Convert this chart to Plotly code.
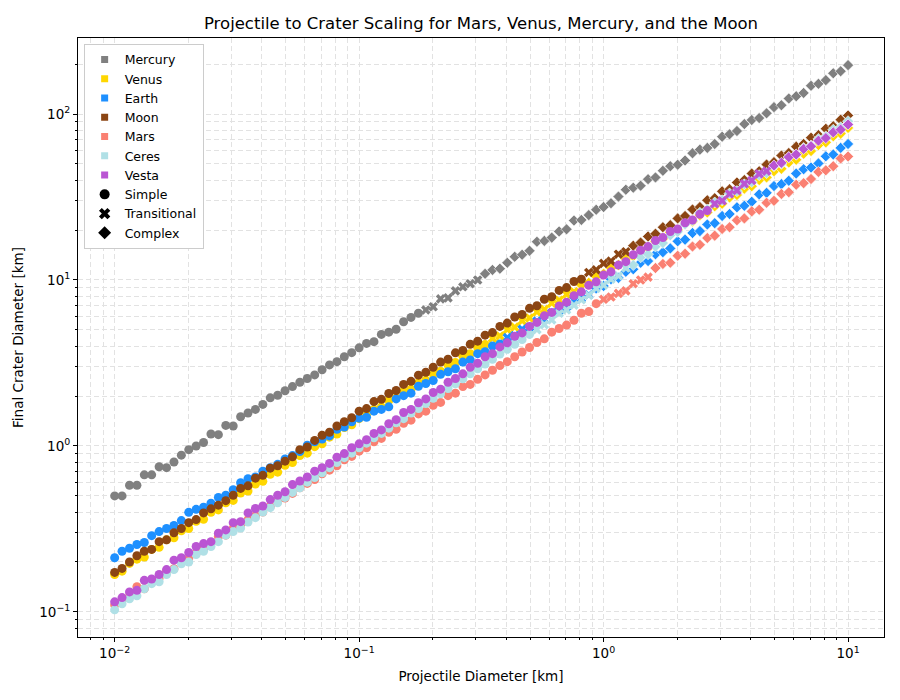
import plotly.graph_objects as go

# ---------------- data ----------------
x_km = [
    0.01000, 0.01072, 0.01150, 0.01233, 0.01322, 0.01417, 0.01520, 0.01630, 0.01748, 0.01874,
    0.02009, 0.02154, 0.02310, 0.02477, 0.02656, 0.02848, 0.03054, 0.03275, 0.03511, 0.03765,
    0.04037, 0.04329, 0.04642, 0.04977, 0.05337, 0.05722, 0.06136, 0.06579, 0.07055, 0.07565,
    0.08111, 0.08697, 0.09326,
    0.1000, 0.1072, 0.1150, 0.1233, 0.1322, 0.1417, 0.1520, 0.1630, 0.1748, 0.1874,
    0.2009, 0.2154, 0.2310, 0.2477, 0.2656, 0.2848, 0.3054, 0.3275, 0.3511, 0.3765,
    0.4037, 0.4329, 0.4642, 0.4977, 0.5337, 0.5722, 0.6136, 0.6579, 0.7055, 0.7565,
    0.8111, 0.8697, 0.9326,
    1.000, 1.072, 1.150, 1.233, 1.322, 1.417, 1.520, 1.630, 1.748, 1.874,
    2.009, 2.154, 2.310, 2.477, 2.656, 2.848, 3.054, 3.275, 3.511, 3.765,
    4.037, 4.329, 4.642, 4.977, 5.337, 5.722, 6.136, 6.579, 7.055, 7.565,
    8.111, 8.697, 9.326, 10.00,
]

mercury = [
    0.50, 0.50, 0.58, 0.58, 0.67, 0.67, 0.75, 0.74, 0.80, 0.88,
    0.95, 1.00, 1.05, 1.18, 1.17, 1.33, 1.32, 1.50, 1.58, 1.66,
    1.78, 1.95, 2.02, 2.15, 2.28, 2.42, 2.55, 2.68, 2.88, 3.08,
    3.22, 3.45, 3.65, 3.90,
    4.15, 4.25, 4.70, 4.85, 5.05, 5.60, 5.95, 6.30, 6.60, 6.90,
    7.70, 7.80, 8.60, 9.10, 9.50, 10.0, 10.9, 11.5, 11.7, 12.7,
    13.8, 14.2, 15.0, 17.0, 17.2, 18.0, 19.6, 20.2, 22.8, 23.0,
    24.6, 26.5, 27.5,
    29.0, 31.8, 35.0, 36.0, 37.0, 40.5, 41.5, 45.5, 48.5, 49.5,
    52.5, 58.0, 61.0, 62.5, 66.0, 73.0, 75.5, 79.0, 87.0, 92.0,
    94.5, 101, 110, 113, 124, 128, 134, 148, 152, 160,
    176, 181, 197,
]

venus = [
    0.168, 0.176, 0.196, 0.208, 0.214, 0.238, 0.245, 0.272, 0.280, 0.308,
    0.318, 0.352, 0.362, 0.398, 0.412, 0.455, 0.470, 0.520, 0.535, 0.590,
    0.612, 0.675, 0.695, 0.765, 0.795, 0.875, 0.905, 0.99, 1.03, 1.13,
    1.18, 1.29, 1.34, 1.46,
    1.53, 1.66, 1.72, 1.88, 1.95, 2.13, 2.20, 2.40, 2.49, 2.71,
    2.82, 3.07, 3.18, 3.47, 3.60, 3.92, 4.08, 4.45, 4.60, 5.02,
    5.20, 5.68, 5.90, 6.42, 6.65, 7.25, 7.55, 8.20, 8.50, 9.30,
    9.62, 10.5, 10.9,
    11.8, 12.3, 13.4, 13.9, 15.2, 15.6, 17.1, 17.7, 19.3, 20.0,
    21.8, 22.5, 24.6, 25.5, 27.8, 28.8, 31.4, 32.5, 35.5, 36.7,
    40.0, 41.5, 45.2, 46.8, 51.0, 53.0, 57.6, 59.8, 65.0, 67.5,
    73.5, 76.2, 82.5,
]

earth = [
    0.212, 0.232, 0.242, 0.255, 0.262, 0.288, 0.305, 0.318, 0.332, 0.355,
    0.398, 0.415, 0.428, 0.452, 0.490, 0.505, 0.545, 0.600, 0.635, 0.650,
    0.705, 0.740, 0.775, 0.835, 0.875, 0.925, 1.01, 1.06, 1.10, 1.15,
    1.26, 1.30, 1.40, 1.47,
    1.49, 1.62, 1.66, 1.72, 1.92, 2.01, 2.08, 2.29, 2.38, 2.48,
    2.70, 2.80, 2.92, 3.20, 3.30, 3.60, 3.70, 4.00, 4.12, 4.50,
    4.62, 5.05, 5.20, 5.65, 5.80, 6.35, 6.55, 6.90, 7.55, 7.75,
    8.15, 8.90, 9.20,
    10.1, 10.3, 11.2, 11.6, 12.7, 13.0, 14.3, 14.7, 15.5, 17.1,
    17.5, 19.2, 19.7, 21.6, 22.0, 24.3, 25.0, 27.4, 28.0, 29.6,
    32.8, 33.5, 36.8, 37.8, 39.6, 43.8, 46.5, 47.6, 50.4, 55.6,
    57.0, 62.5, 66.0,
]

moon = [
    0.173, 0.183, 0.200, 0.218, 0.232, 0.238, 0.265, 0.272, 0.300, 0.318,
    0.345, 0.360, 0.395, 0.418, 0.440, 0.468, 0.505, 0.555, 0.575, 0.640,
    0.665, 0.735, 0.760, 0.810, 0.860, 0.950, 0.985, 1.08, 1.16, 1.21,
    1.32, 1.40, 1.48, 1.62,
    1.68, 1.85, 1.91, 2.07, 2.16, 2.35, 2.45, 2.67, 2.78, 2.98,
    3.20, 3.33, 3.64, 3.76, 4.10, 4.28, 4.65, 4.82, 5.25, 5.50,
    5.98, 6.20, 6.75, 7.00, 7.65, 7.92, 8.65, 9.00, 9.80, 10.1,
    11.1, 11.5, 12.6,
    13.0, 14.3, 14.8, 16.1, 16.8, 18.3, 19.0, 20.8, 21.4, 23.5,
    24.3, 26.6, 27.5, 30.2, 31.1, 34.2, 35.2, 38.7, 40.0, 43.8,
    45.2, 49.6, 51.3, 56.2, 58.2, 63.6, 66.0, 72.0, 74.6, 81.5,
    84.5, 92.4, 98.0,
]

mars = [
    0.110, 0.118, 0.124, 0.142, 0.138, 0.155, 0.160, 0.176, 0.182, 0.205,
    0.210, 0.226, 0.240, 0.258, 0.285, 0.290, 0.318, 0.335, 0.360, 0.380,
    0.400, 0.432, 0.465, 0.485, 0.518, 0.560, 0.595, 0.628, 0.680, 0.715,
    0.760, 0.825, 0.865, 0.93,
    0.975, 1.06, 1.11, 1.21, 1.26, 1.37, 1.43, 1.56, 1.62, 1.76,
    1.83, 2.01, 2.08, 2.28, 2.35, 2.52, 2.68, 2.86, 3.05, 3.22,
    3.45, 3.68, 3.92, 4.20, 4.42, 4.85, 5.10, 5.35, 5.72, 6.30,
    6.45, 7.20, 7.65,
    7.90, 8.30, 8.60, 9.50, 10.0, 10.4, 11.8, 12.5, 12.7, 14.0,
    14.4, 15.9, 16.3, 17.9, 18.5, 20.3, 20.8, 22.9, 23.5, 25.9,
    26.5, 29.2, 30.0, 33.0, 33.8, 37.5, 38.3, 40.6, 44.8, 45.8,
    48.5, 54.0, 55.5,
]

ceres = [
    0.103, 0.112, 0.120, 0.125, 0.138, 0.148, 0.152, 0.168, 0.180, 0.195,
    0.200, 0.222, 0.232, 0.248, 0.265, 0.290, 0.305, 0.320, 0.348, 0.370,
    0.400, 0.425, 0.455, 0.490, 0.525, 0.560, 0.605, 0.645, 0.690, 0.740,
    0.795, 0.850, 0.905, 0.975,
    1.04, 1.12, 1.19, 1.28, 1.38, 1.46, 1.58, 1.68, 1.80, 1.94,
    2.06, 2.22, 2.37, 2.54, 2.72, 2.92, 3.12, 3.33, 3.58, 3.82,
    4.10, 4.38, 4.70, 5.02, 5.38, 5.75, 6.30, 6.60, 7.05, 7.60,
    8.10, 8.90, 9.30,
    10.1, 10.6, 11.8, 12.3, 13.7, 14.3, 15.9, 16.7, 18.6, 19.5,
    21.7, 22.8, 25.4, 26.6, 29.3, 30.2, 33.2, 34.3, 37.7, 38.9,
    42.8, 44.1, 48.5, 50.1, 55.0, 56.9, 62.4, 64.6, 70.8, 73.3,
    80.4, 83.2, 90.5,
]

vesta = [
    0.115, 0.122, 0.132, 0.135, 0.155, 0.158, 0.168, 0.180, 0.205, 0.212,
    0.228, 0.248, 0.258, 0.265, 0.298, 0.312, 0.345, 0.350, 0.395, 0.420,
    0.435, 0.475, 0.505, 0.530, 0.585, 0.615, 0.650, 0.705, 0.740, 0.785,
    0.855, 0.900, 0.975, 1.03,
    1.09, 1.19, 1.25, 1.36, 1.44, 1.59, 1.66, 1.82, 1.92, 2.10,
    2.20, 2.42, 2.55, 2.72, 2.98, 3.15, 3.45, 3.60, 3.95, 4.18,
    4.58, 4.80, 5.25, 5.55, 6.08, 6.38, 6.98, 7.35, 8.05, 8.48,
    9.30, 9.75, 10.7,
    11.2, 12.3, 12.9, 14.2, 15.1, 15.9, 17.3, 18.0, 19.6, 20.3,
    22.1, 23.0, 24.9, 26.2, 28.8, 30.0, 33.0, 34.6, 38.0, 39.8,
    43.6, 45.3, 49.0, 50.8, 55.0, 57.0, 61.6, 63.9, 69.1, 71.6,
    77.5, 80.5, 86.5,
]

bodies = ["Mercury", "Venus", "Earth", "Moon", "Mars", "Ceres", "Vesta"]
crater_km = {"Mercury": mercury, "Venus": venus, "Earth": earth, "Moon": moon,
             "Mars": mars, "Ceres": ceres, "Vesta": vesta}
# crater-diameter limits [km]: simple below first, complex above second
regime_limits = {"Mercury": (6.5, 10.5), "Venus": (4.3, 9.0), "Earth": (4.3, 8.5),
                 "Moon": (10.5, 16.0), "Mars": (7.6, 11.0), "Ceres": (5.0, 12.0),
                 "Vesta": (27.5, 47.0)}
regimes = ["Simple", "Transitional", "Complex"]

x_tick_vals = [0.01, 0.1, 1, 10]
x_tick_text = ["10<sup>\u22122</sup>", "10<sup>\u22121</sup>", "10<sup>0</sup>", "10<sup>1</sup>"]
y_tick_vals = [0.1, 1, 10, 100]
y_tick_text = ["10<sup>\u22121</sup>", "10<sup>0</sup>", "10<sup>1</sup>", "10<sup>2</sup>"]

# ---------------- styling ----------------
colors = {"Mercury": "#808080", "Venus": "#FFD700", "Earth": "#1E90FF", "Moon": "#8B4513",
          "Mars": "#FA8072", "Ceres": "#B0E0E6", "Vesta": "#BA55D3"}
symbols = {"Simple": "circle", "Transitional": "x", "Complex": "diamond"}
sizes = {"Simple": 9, "Transitional": 8.5, "Complex": 8.5}
FONT = "DejaVu Sans"
GRID = "#e2e2e2"

fig = go.Figure()
for b in bodies:
    y = crater_km[b]
    lo, hi = regime_limits[b]
    for r in regimes:
        if r == "Simple":
            idx = [i for i, v in enumerate(y) if v < lo]
        elif r == "Transitional":
            idx = [i for i, v in enumerate(y) if lo <= v < hi]
        else:
            idx = [i for i, v in enumerate(y) if v >= hi]
        fig.add_trace(go.Scatter(
            x=[x_km[i] for i in idx], y=[y[i] for i in idx], mode="markers",
            marker=dict(symbol=symbols[r], size=sizes[r], color=colors[b],
                        line=dict(width=0.6 if r == "Complex" else 0, color="white")),
            showlegend=False, hoverinfo="skip"))

for b in bodies:
    fig.add_trace(go.Scatter(x=[None], y=[None], mode="markers", name=b,
                             marker=dict(symbol="square", size=7, color=colors[b])))
for r in regimes:
    fig.add_trace(go.Scatter(x=[None], y=[None], mode="markers", name=r,
                             marker=dict(symbol=symbols[r], size=10, color="black")))


def minor_vals(lo_dec, hi_dec):
    return [m * 10.0 ** d for d in range(lo_dec, hi_dec + 1) for m in range(2, 10)]


def axis(tv, tt, rng, mv, title, standoff):
    return dict(type="log", range=rng, tickmode="array", tickvals=tv, ticktext=tt,
                showline=True, mirror=True, linecolor="black", linewidth=1,
                ticks="outside", ticklen=4, tickcolor="black",
                tickfont=dict(family=FONT, size=13.5, color="black"),
                zeroline=False, showgrid=True, gridcolor=GRID, griddash="5px,3px", gridwidth=1,
                minor=dict(tickmode="array", tickvals=mv, ticks="outside", ticklen=2,
                           tickcolor="black", showgrid=True, gridcolor=GRID, griddash="5px,3px"),
                title=dict(text=title, font=dict(family=FONT, size=13.5), standoff=standoff))


fig.update_layout(
    width=900, height=700,
    margin=dict(l=78, r=16, t=38, b=63),
    paper_bgcolor="white", plot_bgcolor="white",
    font=dict(family=FONT, size=13, color="black"),
    title=dict(text="Projectile to Crater Scaling for Mars, Venus, Mercury, and the Moon",
               x=0.5, xref="paper", y=1 - 23 / 700, yref="container", yanchor="middle",
               font=dict(family=FONT, size=16.5, color="black")),
    xaxis=axis(x_tick_vals, x_tick_text, [-2.15, 1.147], minor_vals(-3, 1),
               "Projectile Diameter [km]", 11),
    yaxis=axis(y_tick_vals, y_tick_text, [-1.151, 2.458], minor_vals(-2, 2),
               "Final Crater Diameter [km]", 12),
    legend=dict(x=0.007, y=0.99, xanchor="left", yanchor="top", bgcolor="white",
                bordercolor="#cccccc", borderwidth=1,
                font=dict(family=FONT, size=12.5, color="black"), tracegroupgap=0),
)

fig.write_html("out.html")
